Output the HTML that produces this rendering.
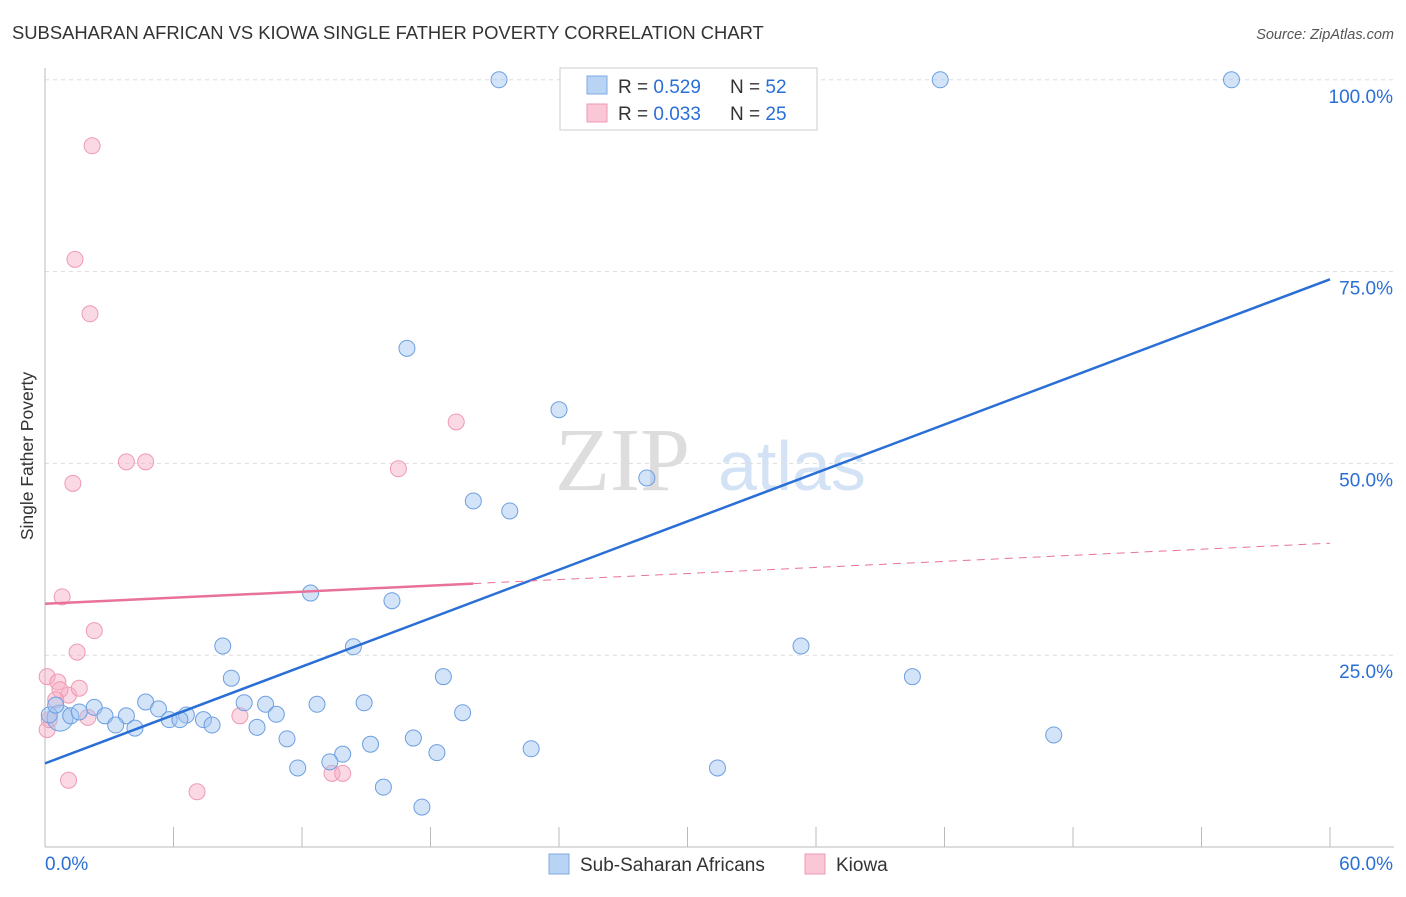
<!DOCTYPE html>
<html><head><meta charset="utf-8"><style>
body{margin:0;background:#fff;font-family:"Liberation Sans",sans-serif}
svg text{font-family:"Liberation Sans",sans-serif}
</style></head><body>
<svg id="chart" width="1406" height="892" xmlns="http://www.w3.org/2000/svg">
<text x="12" y="39" font-size="18.4" fill="#333">SUBSAHARAN AFRICAN VS KIOWA SINGLE FATHER POVERTY CORRELATION CHART</text>
<text x="1394" y="39" font-size="14.5" fill="#555" font-style="italic" text-anchor="end">Source: ZipAtlas.com</text>
<text x="33" y="456" font-size="17.5" fill="#333" text-anchor="middle" transform="rotate(-90 33 456)">Single Father Poverty</text>
<g><text x="555" y="490" font-size="90" fill="#ddd" font-family="Liberation Serif" style="font-family:'Liberation Serif',serif">ZIP</text><text x="718" y="490" font-size="70" fill="#d3e3f5">atlas</text></g>
<g id="grid"></g><g id="axes"></g><g id="marks"></g>
<g>
<rect x="560" y="68" width="257" height="62" fill="#fff" stroke="#ccc"/>
<rect x="587" y="76" width="20" height="18" fill="#b9d3f5" stroke="#7fa9e0"/>
<rect x="587" y="104" width="20" height="18" fill="#f9c7d5" stroke="#ee9ab2"/>
<text x="618" y="93" font-size="19" fill="#333">R = <tspan fill="#2a6fd6">0.529</tspan></text>
<text x="730" y="93" font-size="19" fill="#333">N = <tspan fill="#2a6fd6">52</tspan></text>
<text x="618" y="120" font-size="19" fill="#333">R = <tspan fill="#2a6fd6">0.033</tspan></text>
<text x="730" y="120" font-size="19" fill="#333">N = <tspan fill="#2a6fd6">25</tspan></text>
</g>
<g>
<rect x="549" y="854" width="20" height="20" fill="#b9d3f5" stroke="#7fa9e0"/>
<text x="580" y="871" font-size="19" fill="#333">Sub-Saharan Africans</text>
<rect x="805" y="854" width="20" height="20" fill="#f9c7d5" stroke="#ee9ab2"/>
<text x="836" y="871" font-size="19" fill="#333">Kiowa</text>
</g>
</svg>
<script>
const blueX=[21.2,41.8,55.4,16.9,24.0,28.1,20.0,21.7,12.4,16.2,14.4,35.3,8.3,8.7,18.6,40.5,4.7,9.3,10.3,12.7,14.9,5.3,6.6,10.8,19.5,2.3,2.8,3.8,5.8,6.3,7.4,7.8,3.3,4.2,9.9,11.3,17.2,15.2,13.9,22.7,18.3,13.3,11.8,31.4,47.1,15.8,17.6,0.7,1.2,1.6,0.2,0.5];
const blueY=[100,100,100,65.0,57.0,48.1,45.1,43.8,33.1,32.1,26.1,26.2,26.2,22.0,22.2,22.2,18.9,18.8,18.6,18.6,18.8,18.0,17.2,17.3,17.5,18.2,17.1,17.1,16.6,16.6,16.6,15.9,15.9,15.5,15.6,14.1,14.2,13.4,12.1,12.8,12.3,11.1,10.3,10.3,14.6,7.8,5.2,16.8,17.1,17.6,17.2,18.5];
const pinkX=[2.2,1.4,2.1,19.2,3.8,4.7,16.5,1.3,0.8,2.3,1.5,0.1,0.6,1.1,1.6,0.7,0.5,2.0,9.1,1.1,7.1,13.4,13.9,0.1,0.2];
const pinkY=[91.4,76.6,69.5,55.4,50.2,50.2,49.3,47.4,32.6,28.2,25.4,22.2,21.5,19.8,20.7,20.5,19.2,16.9,17.1,8.7,7.2,9.6,9.6,15.3,16.6];
const yTicks=[25,50,75,100];
const yTickLabels=["25.0%","50.0%","75.0%","100.0%"];
const xTicks=[0,6,12,18,24,30,36,42,48,54,60];
const blueTrend=[10.9,74.0];
const pinkTrend=[31.7,39.6];
const pinkSolidEnd=20;
const X=v=>45+v/60*1285, Y=v=>847-v*7.672;
const NS="http://www.w3.org/2000/svg";
function mk(t,a,p){const e=document.createElementNS(NS,t);for(const k in a)e.setAttribute(k,a[k]);p.appendChild(e);return e;}
const grid=document.getElementById('grid'),axes=document.getElementById('axes'),marks=document.getElementById('marks');
yTicks.forEach((v,i)=>{
 const l=mk('line',{x1:45,x2:1394,y1:Y(v),y2:Y(v),stroke:'#ddd','stroke-dasharray':'4,4'},grid);
 
 
 const t=mk('text',{x:1393,y:Y(v)+23,'font-size':19,fill:'#2a6fd6','text-anchor':'end'},axes);
 t.textContent=yTickLabels[i];
 
 
});
const ax=mk('line',{x1:45,x2:1394,y1:847,y2:847,stroke:'#bbb'},axes);


const ay=mk('line',{x1:45,x2:45,y1:68,y2:847,stroke:'#bbb'},axes);


xTicks.forEach(v=>{
 const l=mk('line',{x1:X(v),x2:X(v),y1:827,y2:847,stroke:'#bbb'},axes);
 
 
});
const xl0=mk('text',{x:45,y:870,'font-size':19,fill:'#2a6fd6'},axes);xl0.textContent=xTicks[0].toFixed(1)+'%';


const xl1=mk('text',{x:1393,y:870,'font-size':19,fill:'#2a6fd6','text-anchor':'end'},axes);xl1.textContent=xTicks[xTicks.length-1].toFixed(1)+'%';


pinkX.forEach((x,i)=>{
 const c=mk('circle',{cx:X(x),cy:Y(pinkY[i]),r:8,fill:'rgba(246,170,195,0.45)',stroke:'#ee9ab2','stroke-width':1},marks);
 
 
});
blueX.forEach((x,i)=>{
 const c=mk('circle',{cx:X(x),cy:Y(blueY[i]),r:i==47?13:8,fill:'rgba(160,196,240,0.45)',stroke:'#6d9fe0','stroke-width':1},marks);
 
 
});
const bt=mk('line',{x1:X(0),y1:Y(blueTrend[0]),x2:X(60),y2:Y(blueTrend[1]),stroke:'#2a6fd6','stroke-width':2.5},marks);


const pm=pinkTrend[0]+(pinkTrend[1]-pinkTrend[0])*pinkSolidEnd/60;
const pt=mk('line',{x1:X(0),y1:Y(pinkTrend[0]),x2:X(pinkSolidEnd),y2:Y(pm),stroke:'#e8729a','stroke-width':2.5},marks);


const pd=mk('line',{x1:X(pinkSolidEnd),y1:Y(pm),x2:X(60),y2:Y(pinkTrend[1]),stroke:'#e8729a','stroke-width':1,'stroke-dasharray':'8,6'},marks);


</script>
</body></html>
